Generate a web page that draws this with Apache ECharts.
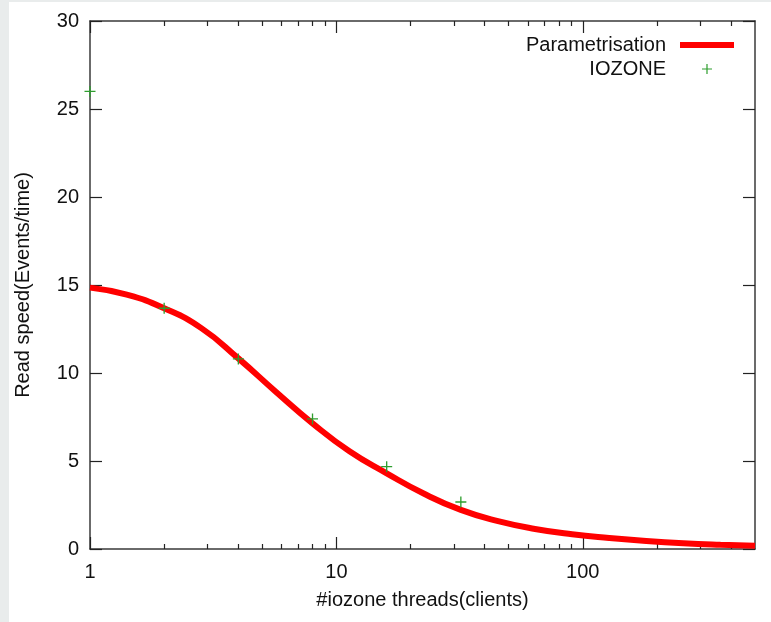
<!DOCTYPE html>
<html>
<head>
<meta charset="utf-8">
<script src="https://cdn.jsdelivr.net/npm/echarts@6/dist/echarts.min.js"></script>
<style>
  html, body { margin: 0; padding: 0; background: #e9ecec; }
  #bg { position: absolute; left: 9px; top: 2px; width: 762px; height: 620px; background: #ffffff; }
  #chart { position: absolute; left: 0; top: 0; width: 771px; height: 622px; }
</style>
</head>
<body>
<div id="bg"></div>
<div id="chart"></div>
<script>
// ---- data ----
const curveX = [1, 1.41, 2, 2.83, 4, 5.66, 8, 11.3, 16, 22.6, 32, 45.3, 64, 90.5, 128, 181, 256, 362, 500];
const curveY = [14.85, 14.45, 13.68, 12.55, 10.83, 8.95, 7.14, 5.55, 4.30, 3.15, 2.22, 1.58, 1.14, 0.84, 0.63, 0.46, 0.33, 0.24, 0.18];
const iozoneX = [1, 2, 4, 8, 16, 32];
const iozoneY = [26.0, 13.68, 10.8, 7.39, 4.68, 2.67];
const xMajorTicks = [1, 10, 100];
const xMinorTicks = [2, 3, 4, 5, 6, 7, 8, 9, 20, 30, 40, 50, 60, 70, 80, 90, 200, 300, 400];
const seriesNames = ['Parametrisation', 'IOZONE'];
const xTitle = '#iozone threads(clients)';
const yTitle = 'Read speed(Events/time)';

const FONT = '"Liberation Sans", Arial, Helvetica, sans-serif';
const FS = 20;
const AXIS_COLOR = '#3a3a3a';
const GREEN = '#2e9e2e';
const PLUS = 'path://M4.4,0H5.6V4.4H10V5.6H5.6V10H4.4V5.6H0V4.4H4.4Z';

function xAxisDef(pos, ticks, len, showLine, showLabel) {
  return {
    type: 'log', logBase: 10, min: 1, max: 500, position: pos,
    axisLine: { show: showLine, onZero: false, lineStyle: { color: AXIS_COLOR, width: 1.5 } },
    axisTick: { show: true, inside: true, length: len, customValues: ticks, lineStyle: { color: '#222', width: 1.2 } },
    axisLabel: { show: showLabel, customValues: ticks, margin: 13, color: '#111', fontSize: FS, fontFamily: FONT },
    splitLine: { show: false }, minorTick: { show: false }
  };
}
function yAxisDef(pos, showLabel) {
  return {
    type: 'value', min: 0, max: 30, interval: 5, position: pos,
    axisLine: { show: true, onZero: false, lineStyle: { color: AXIS_COLOR, width: 1.5 } },
    axisTick: { show: true, inside: true, length: 12, lineStyle: { color: '#222', width: 1.2 } },
    axisLabel: { show: showLabel, margin: 11, color: '#111', fontSize: FS, fontFamily: FONT },
    splitLine: { show: false }
  };
}

const xMain = xAxisDef('bottom', xMajorTicks, 12, true, true);
xMain.name = xTitle;
xMain.nameLocation = 'middle';
xMain.nameGap = 41;
xMain.nameTextStyle = { color: '#111', fontSize: FS, fontFamily: FONT };

const yMain = yAxisDef('left', true);
yMain.name = yTitle;
yMain.nameLocation = 'middle';
yMain.nameGap = 57;
yMain.nameTextStyle = { color: '#111', fontSize: FS, fontFamily: FONT };

const chart = echarts.init(document.getElementById('chart'), null, { renderer: 'canvas' });
chart.setOption({
  animation: false,
  backgroundColor: 'transparent',
  grid: { left: 90, right: 16, top: 21, bottom: 73, containLabel: false },
  xAxis: [
    xMain,
    xAxisDef('bottom', xMinorTicks, 5, false, false),
    xAxisDef('top', xMajorTicks, 12, true, false),
    xAxisDef('top', xMinorTicks, 5, false, false)
  ],
  yAxis: [yMain, yAxisDef('right', false)],
  legend: [
    {
      data: [{ name: seriesNames[0], icon: 'rect' }],
      right: 37, top: 35, padding: 0, align: 'right',
      itemWidth: 54, itemHeight: 6, selectedMode: false,
      textStyle: { color: '#111', fontSize: FS, fontFamily: FONT, padding: [0, 9, 0, 0] }
    },
    {
      data: [{ name: seriesNames[1], icon: PLUS }],
      right: 59, top: 59, padding: 0, align: 'right',
      itemWidth: 10, itemHeight: 10, selectedMode: false,
      textStyle: { color: '#111', fontSize: FS, fontFamily: FONT, padding: [0, 31, 0, 0] }
    }
  ],
  series: [
    {
      name: seriesNames[0], type: 'line', xAxisIndex: 0, yAxisIndex: 0,
      data: curveX.map((x, i) => [x, curveY[i]]),
      showSymbol: false, symbol: 'none', smooth: 0.5,
      lineStyle: { color: '#ff0000', width: 6 }, itemStyle: { color: '#ff0000' },
      clip: true
    },
    {
      name: seriesNames[1], type: 'scatter', xAxisIndex: 0, yAxisIndex: 0,
      data: iozoneX.map((x, i) => [x, iozoneY[i]]),
      symbol: PLUS, symbolSize: 11, itemStyle: { color: GREEN, opacity: 1 },
      clip: false, z: 5
    }
  ]
});
</script>
</body>
</html>
